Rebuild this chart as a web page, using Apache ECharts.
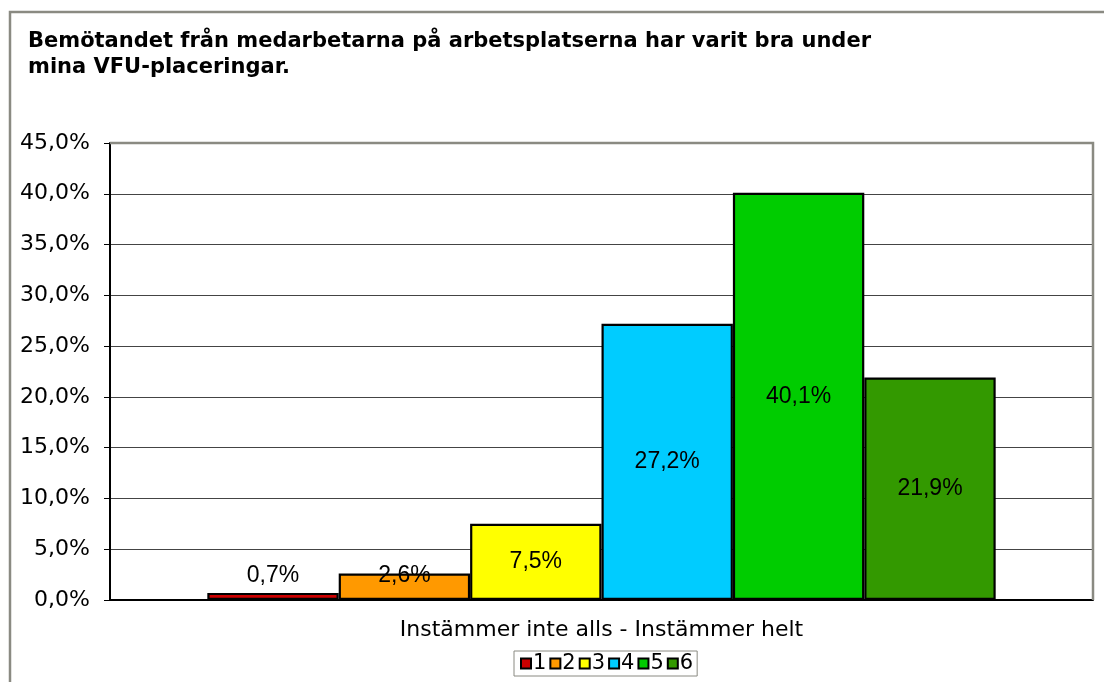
<!DOCTYPE html>
<html>
<head>
<meta charset="utf-8">
<script src="https://cdn.jsdelivr.net/npm/echarts@6/dist/echarts.min.js"></script>
<style>
  html, body { margin: 0; padding: 0; background: #fff; }
  #chart { width: 1104px; height: 682px; }
</style>
</head>
<body>
<div id="chart"></div>
<script>
var titleText = 'Bemötandet från medarbetarna på arbetsplatserna har varit bra under\nmina VFU-placeringar.';
var category = ['Instämmer inte alls - Instämmer helt'];
var seriesNames = ['1', '2', '3', '4', '5', '6'];
var values = [0.7, 2.6, 7.5, 27.2, 40.1, 21.9];
var colors = ['#CC0000', '#FF9900', '#FFFF00', '#00CCFF', '#00CC00', '#339900'];

(function() {
  var chart = echarts.init(document.getElementById('chart'), null, { renderer: 'canvas' });

  function fmt(v) {
    return v.toFixed(1).replace('.', ',') + '%';
  }

  // small bars get their label lifted above like the original
  var labelPos = [
    { position: 'top', distance: 6 },
    { position: 'top', distance: -14 },
    { position: 'inside' },
    { position: 'inside' },
    { position: 'inside' },
    { position: 'inside' }
  ];

  var series = seriesNames.map(function(name, i) {
    return {
      name: name,
      type: 'bar',
      barGap: '0%',
      barCategoryGap: '19.8%',
      data: [values[i]],
      itemStyle: { color: colors[i], borderColor: '#000', borderWidth: 2.2 },
      label: {
        show: true,
        position: labelPos[i].position,
        distance: labelPos[i].distance,
        formatter: function(p) { return fmt(p.value); },
        color: '#000',
        fontFamily: 'Liberation Sans, Arial, sans-serif',
        fontSize: 23
      }
    };
  });

  chart.setOption({
    animation: false,
    backgroundColor: '#fff',
    title: {
      text: titleText,
      left: 23,
      top: 24,
      textStyle: {
        fontFamily: 'DejaVu Sans, Verdana, sans-serif',
        fontWeight: 'bold',
        fontSize: 21,
        lineHeight: 26,
        color: '#000'
      }
    },
    graphic: [
      {
        type: 'rect',
        shape: { x: 10, y: 12, width: 1110, height: 700 },
        style: { fill: null, stroke: '#8a8a82', lineWidth: 2.5 },
        silent: true
      },
      {
        type: 'polyline',
        shape: { points: [[110, 143], [1093, 143], [1093, 600]] },
        style: { fill: null, stroke: '#8a8a82', lineWidth: 2.5 },
        silent: true,
        z: 1
      }
    ],
    grid: {
      left: 110,
      right: 11,
      top: 143,
      bottom: 82
    },
    legend: {
      data: seriesNames,
      bottom: 6,
      left: 514,
      icon: 'rect',
      itemWidth: 10,
      itemHeight: 10,
      itemGap: 3,
      padding: [2, 4, 2, 6],
      borderColor: '#8a8a82',
      borderWidth: 1,
      textStyle: {
        fontFamily: 'DejaVu Sans, Verdana, sans-serif',
        fontSize: 21,
        color: '#000',
        padding: [0, 0, 0, -3]
      }
    },
    xAxis: {
      type: 'category',
      data: category,
      axisLine: { lineStyle: { color: '#000', width: 2 } },
      axisTick: { show: false },
      axisLabel: {
        margin: 19,
        color: '#000',
        fontFamily: 'DejaVu Sans, Verdana, sans-serif',
        fontSize: 22
      }
    },
    yAxis: {
      type: 'value',
      min: 0,
      max: 45,
      interval: 5,
      axisLine: { show: true, lineStyle: { color: '#000', width: 2 } },
      axisTick: { show: true, length: 6, lineStyle: { color: '#000' } },
      axisLabel: {
        margin: 20,
        color: '#000',
        fontFamily: 'DejaVu Sans, Verdana, sans-serif',
        fontSize: 22,
        formatter: function(v) { return fmt(v); }
      },
      splitLine: { lineStyle: { color: '#444', width: 1.2 } }
    },
    series: series
  });
})();
</script>
</body>
</html>
